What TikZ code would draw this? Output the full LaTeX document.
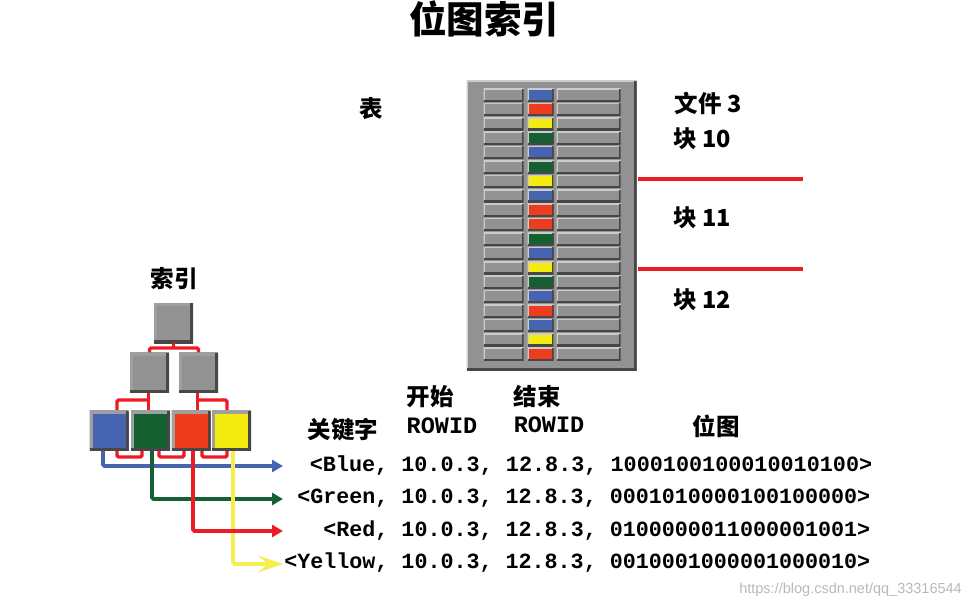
\documentclass[tikz,border=0pt]{standalone}
\usepackage{fontspec}
\setmonofont{Liberation Mono}
\newfontfamily\cjk{Noto Sans CJK SC}
\usetikzlibrary{arrows.meta}
\definecolor{cellgray}{RGB}{146,146,146}
\definecolor{keyblue}{RGB}{70,100,176}
\definecolor{keygreen}{RGB}{20,96,48}
\definecolor{keyred}{RGB}{238,60,30}
\definecolor{keyyellow}{RGB}{244,236,16}
\definecolor{linered}{RGB}{237,28,36}
\definecolor{lineyellow}{RGB}{246,238,80}
\tikzset{
    x=1pt, y=-1pt,
    edgelight/.store in=\edgelight, edgelight=white!60!gray,
    edgewide/.store in=\edgewide, edgewide=2pt,
    edgedark/.store in=\edgedark, edgedark=3.2pt,
    bevel/.style={rectangle, inner sep=0pt, fill=#1, path picture={
        \draw[\edgelight, line width=\edgewide]
            (path picture bounding box.south west) -- (path picture bounding box.north west)
            -- (path picture bounding box.north east);
        \draw[black!72, line width=\edgedark]
            (path picture bounding box.south west) -- (path picture bounding box.south east)
            -- (path picture bounding box.north east);
    }},
    rowcell/.style={bevel=#1, minimum height=12.5pt},
    keybox/.style={bevel=#1, minimum width=39pt, minimum height=40pt,
        edgelight=gray!75!white, edgewide=6pt, edgedark=5.5pt},
    treeline/.style={linered, line width=3.4pt, rounded corners=1.5pt},
    keyline/.style={line width=3.6pt, rounded corners=1.5pt, -{Triangle[length=11pt,width=12pt]}},
    label/.style={inner sep=0pt, font=\cjk\bfseries\fontsize{23.5}{26}\selectfont},
    rowtext/.style={inner sep=0pt, anchor=east, font=\ttfamily\bfseries\fontsize{21.7}{24}\selectfont},
    headtext/.style={inner sep=0pt, font=\ttfamily\bfseries\fontsize{23.5}{26}\selectfont}
}
\begin{document}
\begin{tikzpicture}
    \useasboundingbox (0,0) rectangle (972,608);
    \node[label, font=\cjk\bfseries\fontsize{37.5}{40}\selectfont] (title) at (484,19) {位图索引};
    \node[label] (tablbl) at (371,109) {表};
    \node[label] (idxlbl) at (174,279) {索引};

    % Таблица
    \node[bevel=cellgray, minimum width=170pt, minimum height=290pt, edgewide=3pt, edgedark=6pt] (tab) at (551.5,225.5) {};
    \foreach \i/\c in {0/keyblue,1/keyred,2/keyyellow,3/keygreen,4/keyblue,5/keygreen,
        6/keyyellow,7/keyblue,8/keyred,9/keyred,10/keygreen,11/keyblue,12/keyyellow,
        13/keygreen,14/keyblue,15/keyred,16/keyblue,17/keyyellow,18/keyred} {
        \node[rowcell=cellgray, minimum width=40pt] (a\i) at (503.5,95+14.4*\i) {};
        \node[rowcell=\c, minimum width=26pt] (b\i) at (540.5,95+14.4*\i) {};
        \node[rowcell=cellgray, minimum width=64pt] (c\i) at (588.5,95+14.4*\i) {};
    }

    \node[label] (file) at (708,103) {文件 3};
    \node[label] (blk10) at (702,139) {块 10};
    \node[label] (blk11) at (702,218) {块 11};
    \node[label] (blk12) at (702,300) {块 12};
    \coordinate (sepa1) at (638,179);
    \coordinate (sepa2) at (803,179);
    \coordinate (sepb1) at (638,269);
    \coordinate (sepb2) at (803,269);
    \draw[treeline, line width=3.8pt] (sepa1) -- (sepa2);
    \draw[treeline, line width=3.8pt] (sepb1) -- (sepb2);

    % Индекс
    \node[keybox=cellgray] (root) at (173.5,323) {};
    \node[keybox=cellgray] (mid1) at (149.5,372.5) {};
    \node[keybox=cellgray] (mid2) at (198.5,372.5) {};

    \coordinate (fork1) at (149.5,348);
    \coordinate (fork2) at (148.5,400);
    \coordinate (fork3) at (197.5,400);
    \coordinate (drop1) at (117,411);
    \coordinate (drop2) at (148.5,411);
    \coordinate (drop3) at (197.5,411);
    \coordinate (drop4) at (227,411);
    \draw[treeline] (root.south) -- (root.south |- fork1);
    \draw[treeline] (mid1.north) -- (fork1) -- (fork1 -| mid2.north) -- (mid2.north);
    \draw[treeline] (fork2 |- mid1.south) -- (drop2);
    \draw[treeline] (fork3 |- mid2.south) -- (drop3);
    \draw[treeline] (fork2) -| (drop1);
    \draw[treeline] (fork3) -| (drop4);

    \coordinate (ua1) at (117,449);
    \coordinate (ua2) at (142,449);
    \coordinate (ub1) at (159,449);
    \coordinate (ub2) at (184,449);
    \coordinate (uc1) at (202,449);
    \coordinate (uc2) at (227,449);
    \coordinate (ubot) at (0,457);
    \draw[treeline] (ua1) |- (ubot -| ua2) -- (ua2);
    \draw[treeline] (ub1) |- (ubot -| ub2) -- (ub2);
    \draw[treeline] (uc1) |- (ubot -| uc2) -- (uc2);

    % Стрелки
    \coordinate (bstart) at (103,449);
    \coordinate (gstart) at (152,449);
    \coordinate (rstart) at (193,449);
    \coordinate (ystart) at (233,449);
    \coordinate (bend) at (283,466);
    \coordinate (gend) at (283,499);
    \coordinate (rend) at (283,531);
    \coordinate (yend) at (283,564);
    \draw[keyline, keyblue] (bstart) |- (bend);
    \draw[keyline, keygreen] (gstart) |- (gend);
    \draw[lineyellow, line width=3.6pt, rounded corners=1.5pt, -{Stealth[length=25pt,width=17pt,inset=10pt]}] (ystart) |- (yend);
    \draw[keyline, linered] (rstart) |- (rend);

    \node[keybox=keyblue] (leaf1) at (109,430.5) {};
    \node[keybox=keygreen] (leaf2) at (150.5,430.5) {};
    \node[keybox=keyred] (leaf3) at (191,430.5) {};
    \node[keybox=keyyellow] (leaf4) at (231.5,430.5) {};

    % Подписи столбцов
    \node[label] (start) at (430,397) {开始};
    \node[label] (stop) at (537,397) {结束};
    \node[label] (keylbl) at (343,430) {关键字};
    \node[label] (maplbl) at (716,426) {位图};
    \node[headtext] (rowa) at (442,426) {ROWID};
    \node[headtext] (rowb) at (549,425) {ROWID};

    \node[rowtext, font=\ttfamily\bfseries\fontsize{21.8}{24}\selectfont] (blue) at (872.5,466) {<Blue, 10.0.3, 12.8.3, 1000100100010010100>};
    \node[rowtext] (green) at (870.5,498) {<Green, 10.0.3, 12.8.3, 0001010000100100000>};
    \node[rowtext] (red) at (870.5,531) {<Red, 10.0.3, 12.8.3, 0100000011000001001>};
    \node[rowtext] (yellow) at (870.5,563) {<Yellow, 10.0.3, 12.8.3, 0010001000001000010>};

    \node[inner sep=0pt, text=black!28, font=\fontspec{Liberation Sans}\fontsize{14.5}{16}\selectfont, anchor=east] (mark) at (962,590) {https://blog.csdn.net/qq\_33316544};
\end{tikzpicture}
\end{document}
